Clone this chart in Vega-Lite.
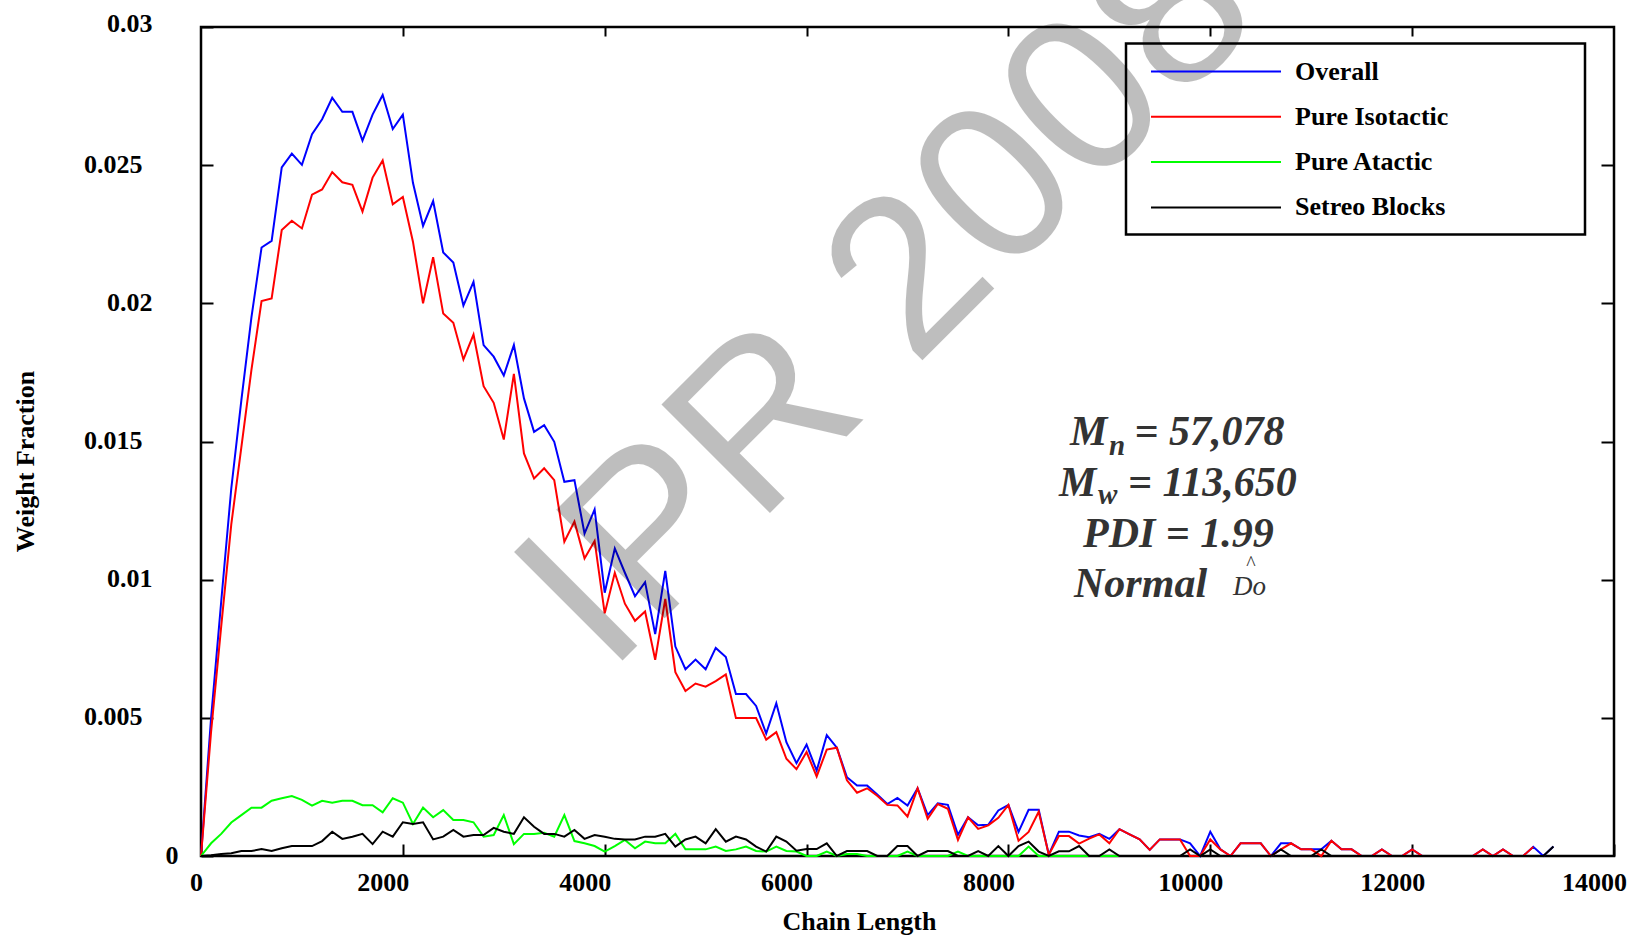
{
  "$schema": "https://vega.github.io/schema/vega-lite/v6.json",
  "width": 1413,
  "height": 829,
  "autosize": {"type": "none"},
  "padding": {"left": 201, "top": 27, "right": 17, "bottom": 82},
  "background": "white",
  "config": {
    "view": {"stroke": "black", "strokeWidth": 2.5},
    "legend": {"strokeWidth": 2.5},
    "font": "Liberation Serif"
  },
  "resolve": {"axis": {"x": "independent", "y": "independent"}},
  "layer": [
    {
      "data": {"values": [
        {"cl":0,"Overall":0,"Pure Isotactic":0,"Pure Atactic":0,"Setreo Blocks":0},
        {"cl":100,"Overall":0.005,"Pure Isotactic":0.0045,"Pure Atactic":0.00046,"Setreo Blocks":0.00003},
        {"cl":200,"Overall":0.0092,"Pure Isotactic":0.0083,"Pure Atactic":0.0008,"Setreo Blocks":0.00007},
        {"cl":300,"Overall":0.0133,"Pure Isotactic":0.012,"Pure Atactic":0.00121,"Setreo Blocks":0.0001},
        {"cl":400,"Overall":0.0165,"Pure Isotactic":0.0148,"Pure Atactic":0.00148,"Setreo Blocks":0.00018},
        {"cl":500,"Overall":0.0195,"Pure Isotactic":0.0176,"Pure Atactic":0.00175,"Setreo Blocks":0.00018},
        {"cl":600,"Overall":0.02202,"Pure Isotactic":0.02008,"Pure Atactic":0.00175,"Setreo Blocks":0.00025},
        {"cl":700,"Overall":0.02226,"Pure Isotactic":0.02018,"Pure Atactic":0.002,"Setreo Blocks":0.00018},
        {"cl":800,"Overall":0.02492,"Pure Isotactic":0.02265,"Pure Atactic":0.00209,"Setreo Blocks":0.00028},
        {"cl":900,"Overall":0.02542,"Pure Isotactic":0.02299,"Pure Atactic":0.00217,"Setreo Blocks":0.00036},
        {"cl":1000,"Overall":0.02501,"Pure Isotactic":0.02271,"Pure Atactic":0.00203,"Setreo Blocks":0.00036},
        {"cl":1100,"Overall":0.02612,"Pure Isotactic":0.02393,"Pure Atactic":0.00182,"Setreo Blocks":0.00036},
        {"cl":1200,"Overall":0.02666,"Pure Isotactic":0.02412,"Pure Atactic":0.002,"Setreo Blocks":0.00054},
        {"cl":1300,"Overall":0.02744,"Pure Isotactic":0.02475,"Pure Atactic":0.00193,"Setreo Blocks":0.00088},
        {"cl":1400,"Overall":0.02693,"Pure Isotactic":0.02438,"Pure Atactic":0.002,"Setreo Blocks":0.00062},
        {"cl":1500,"Overall":0.02693,"Pure Isotactic":0.02429,"Pure Atactic":0.002,"Setreo Blocks":0.0007},
        {"cl":1600,"Overall":0.02589,"Pure Isotactic":0.02332,"Pure Atactic":0.00184,"Setreo Blocks":0.0008},
        {"cl":1700,"Overall":0.02683,"Pure Isotactic":0.02455,"Pure Atactic":0.00184,"Setreo Blocks":0.00043},
        {"cl":1800,"Overall":0.02754,"Pure Isotactic":0.02517,"Pure Atactic":0.00158,"Setreo Blocks":0.00088},
        {"cl":1900,"Overall":0.02631,"Pure Isotactic":0.02358,"Pure Atactic":0.00209,"Setreo Blocks":0.0007},
        {"cl":2000,"Overall":0.02683,"Pure Isotactic":0.02385,"Pure Atactic":0.00193,"Setreo Blocks":0.00122},
        {"cl":2100,"Overall":0.02436,"Pure Isotactic":0.02223,"Pure Atactic":0.00116,"Setreo Blocks":0.00116},
        {"cl":2200,"Overall":0.0228,"Pure Isotactic":0.02,"Pure Atactic":0.00175,"Setreo Blocks":0.00122},
        {"cl":2300,"Overall":0.0237,"Pure Isotactic":0.02167,"Pure Atactic":0.0014,"Setreo Blocks":0.0006},
        {"cl":2400,"Overall":0.02184,"Pure Isotactic":0.01963,"Pure Atactic":0.00166,"Setreo Blocks":0.0007},
        {"cl":2500,"Overall":0.02148,"Pure Isotactic":0.0193,"Pure Atactic":0.0013,"Setreo Blocks":0.00094},
        {"cl":2600,"Overall":0.01992,"Pure Isotactic":0.01797,"Pure Atactic":0.0013,"Setreo Blocks":0.0007},
        {"cl":2700,"Overall":0.02078,"Pure Isotactic":0.01887,"Pure Atactic":0.00122,"Setreo Blocks":0.00076},
        {"cl":2800,"Overall":0.01849,"Pure Isotactic":0.017,"Pure Atactic":0.0007,"Setreo Blocks":0.00076},
        {"cl":2900,"Overall":0.01807,"Pure Isotactic":0.0164,"Pure Atactic":0.00076,"Setreo Blocks":0.00102},
        {"cl":3000,"Overall":0.01739,"Pure Isotactic":0.01507,"Pure Atactic":0.00148,"Setreo Blocks":0.00088},
        {"cl":3100,"Overall":0.01849,"Pure Isotactic":0.01745,"Pure Atactic":0.00043,"Setreo Blocks":0.0008},
        {"cl":3200,"Overall":0.01656,"Pure Isotactic":0.01457,"Pure Atactic":0.0008,"Setreo Blocks":0.0014},
        {"cl":3300,"Overall":0.01535,"Pure Isotactic":0.01366,"Pure Atactic":0.0008,"Setreo Blocks":0.00106},
        {"cl":3400,"Overall":0.01559,"Pure Isotactic":0.01403,"Pure Atactic":0.00084,"Setreo Blocks":0.0008},
        {"cl":3500,"Overall":0.01499,"Pure Isotactic":0.0136,"Pure Atactic":0.0007,"Setreo Blocks":0.0008},
        {"cl":3600,"Overall":0.01354,"Pure Isotactic":0.01137,"Pure Atactic":0.00148,"Setreo Blocks":0.0007},
        {"cl":3700,"Overall":0.0136,"Pure Isotactic":0.0121,"Pure Atactic":0.00054,"Setreo Blocks":0.00094},
        {"cl":3800,"Overall":0.01167,"Pure Isotactic":0.01077,"Pure Atactic":0.00046,"Setreo Blocks":0.00062},
        {"cl":3900,"Overall":0.01254,"Pure Isotactic":0.0114,"Pure Atactic":0.00036,"Setreo Blocks":0.00076},
        {"cl":4000,"Overall":0.00953,"Pure Isotactic":0.00878,"Pure Atactic":0.00016,"Setreo Blocks":0.0007},
        {"cl":4100,"Overall":0.01113,"Pure Isotactic":0.01025,"Pure Atactic":0.00036,"Setreo Blocks":0.00062},
        {"cl":4200,"Overall":0.01025,"Pure Isotactic":0.00913,"Pure Atactic":0.00058,"Setreo Blocks":0.0006},
        {"cl":4300,"Overall":0.0094,"Pure Isotactic":0.00851,"Pure Atactic":0.00028,"Setreo Blocks":0.0006},
        {"cl":4400,"Overall":0.00991,"Pure Isotactic":0.00885,"Pure Atactic":0.00052,"Setreo Blocks":0.0007},
        {"cl":4500,"Overall":0.00803,"Pure Isotactic":0.0071,"Pure Atactic":0.00046,"Setreo Blocks":0.0007},
        {"cl":4600,"Overall":0.01032,"Pure Isotactic":0.0093,"Pure Atactic":0.00046,"Setreo Blocks":0.0008},
        {"cl":4700,"Overall":0.00758,"Pure Isotactic":0.00665,"Pure Atactic":0.0008,"Setreo Blocks":0.00034},
        {"cl":4800,"Overall":0.00676,"Pure Isotactic":0.00597,"Pure Atactic":0.00024,"Setreo Blocks":0.0006},
        {"cl":4900,"Overall":0.00711,"Pure Isotactic":0.00624,"Pure Atactic":0.00024,"Setreo Blocks":0.0007},
        {"cl":5000,"Overall":0.00676,"Pure Isotactic":0.00613,"Pure Atactic":0.00024,"Setreo Blocks":0.00046},
        {"cl":5100,"Overall":0.00753,"Pure Isotactic":0.00633,"Pure Atactic":0.00034,"Setreo Blocks":0.00097},
        {"cl":5200,"Overall":0.0072,"Pure Isotactic":0.00657,"Pure Atactic":0.00018,"Setreo Blocks":0.00052},
        {"cl":5300,"Overall":0.00586,"Pure Isotactic":0.00499,"Pure Atactic":0.00024,"Setreo Blocks":0.0007},
        {"cl":5400,"Overall":0.00586,"Pure Isotactic":0.00499,"Pure Atactic":0.00034,"Setreo Blocks":0.0006},
        {"cl":5500,"Overall":0.00543,"Pure Isotactic":0.00499,"Pure Atactic":0.00018,"Setreo Blocks":0.00034},
        {"cl":5600,"Overall":0.00443,"Pure Isotactic":0.00421,"Pure Atactic":0.00016,"Setreo Blocks":0.00016},
        {"cl":5700,"Overall":0.00553,"Pure Isotactic":0.00448,"Pure Atactic":0.00034,"Setreo Blocks":0.0007},
        {"cl":5800,"Overall":0.00412,"Pure Isotactic":0.00352,"Pure Atactic":0.00018,"Setreo Blocks":0.00052},
        {"cl":5900,"Overall":0.00336,"Pure Isotactic":0.00314,"Pure Atactic":0.00016,"Setreo Blocks":0.00019},
        {"cl":6000,"Overall":0.00403,"Pure Isotactic":0.00376,"Pure Atactic":0,"Setreo Blocks":0.00025},
        {"cl":6100,"Overall":0.00309,"Pure Isotactic":0.00288,"Pure Atactic":0,"Setreo Blocks":0.00025},
        {"cl":6200,"Overall":0.00437,"Pure Isotactic":0.00385,"Pure Atactic":0.00016,"Setreo Blocks":0.00046},
        {"cl":6300,"Overall":0.00392,"Pure Isotactic":0.00392,"Pure Atactic":0,"Setreo Blocks":0},
        {"cl":6400,"Overall":0.00285,"Pure Isotactic":0.00274,"Pure Atactic":0.00007,"Setreo Blocks":0.00018},
        {"cl":6500,"Overall":0.00255,"Pure Isotactic":0.00229,"Pure Atactic":0.00007,"Setreo Blocks":0.00018},
        {"cl":6600,"Overall":0.00255,"Pure Isotactic":0.00245,"Pure Atactic":0,"Setreo Blocks":0.00018},
        {"cl":6700,"Overall":0.00223,"Pure Isotactic":0.00218,"Pure Atactic":0,"Setreo Blocks":0},
        {"cl":6800,"Overall":0.00188,"Pure Isotactic":0.00185,"Pure Atactic":0,"Setreo Blocks":0},
        {"cl":6900,"Overall":0.0021,"Pure Isotactic":0.00183,"Pure Atactic":0,"Setreo Blocks":0.00036},
        {"cl":7000,"Overall":0.00183,"Pure Isotactic":0.00143,"Pure Atactic":0.00016,"Setreo Blocks":0.00036},
        {"cl":7100,"Overall":0.00245,"Pure Isotactic":0.00245,"Pure Atactic":0,"Setreo Blocks":0},
        {"cl":7200,"Overall":0.00148,"Pure Isotactic":0.00135,"Pure Atactic":0,"Setreo Blocks":0.00018},
        {"cl":7300,"Overall":0.00191,"Pure Isotactic":0.00188,"Pure Atactic":0,"Setreo Blocks":0.00018},
        {"cl":7400,"Overall":0.00185,"Pure Isotactic":0.00171,"Pure Atactic":0,"Setreo Blocks":0.00018},
        {"cl":7500,"Overall":0.00077,"Pure Isotactic":0.00058,"Pure Atactic":0.00016,"Setreo Blocks":0},
        {"cl":7600,"Overall":0.0014,"Pure Isotactic":0.0014,"Pure Atactic":0,"Setreo Blocks":0},
        {"cl":7700,"Overall":0.00111,"Pure Isotactic":0.00098,"Pure Atactic":0,"Setreo Blocks":0.00018},
        {"cl":7800,"Overall":0.00113,"Pure Isotactic":0.00111,"Pure Atactic":0,"Setreo Blocks":0},
        {"cl":7900,"Overall":0.00165,"Pure Isotactic":0.00138,"Pure Atactic":0,"Setreo Blocks":0.00036},
        {"cl":8000,"Overall":0.00185,"Pure Isotactic":0.00185,"Pure Atactic":0,"Setreo Blocks":0},
        {"cl":8100,"Overall":0.00087,"Pure Isotactic":0.00055,"Pure Atactic":0,"Setreo Blocks":0.00036},
        {"cl":8200,"Overall":0.00167,"Pure Isotactic":0.00087,"Pure Atactic":0.00034,"Setreo Blocks":0.00052},
        {"cl":8300,"Overall":0.00167,"Pure Isotactic":0.0016,"Pure Atactic":0,"Setreo Blocks":0.00016},
        {"cl":8400,"Overall":0.00005,"Pure Isotactic":0.00005,"Pure Atactic":0,"Setreo Blocks":0},
        {"cl":8500,"Overall":0.00088,"Pure Isotactic":0.00072,"Pure Atactic":0,"Setreo Blocks":0.00017},
        {"cl":8600,"Overall":0.00088,"Pure Isotactic":0.00072,"Pure Atactic":0,"Setreo Blocks":0.00017},
        {"cl":8700,"Overall":0.00074,"Pure Isotactic":0.00045,"Pure Atactic":0,"Setreo Blocks":0.00036},
        {"cl":8800,"Overall":0.00068,"Pure Isotactic":0.00063,"Pure Atactic":0,"Setreo Blocks":0},
        {"cl":8900,"Overall":0.0008,"Pure Isotactic":0.00078,"Pure Atactic":0,"Setreo Blocks":0},
        {"cl":9000,"Overall":0.00062,"Pure Isotactic":0.00046,"Pure Atactic":0,"Setreo Blocks":0.00024},
        {"cl":9100,"Overall":0.00097,"Pure Isotactic":0.00097,"Pure Atactic":0,"Setreo Blocks":0},
        {"cl":9200,"Overall":0.00078,"Pure Isotactic":0.00078,"Pure Atactic":0,"Setreo Blocks":0},
        {"cl":9300,"Overall":0.0006,"Pure Isotactic":0.0006,"Pure Atactic":0,"Setreo Blocks":0},
        {"cl":9400,"Overall":0.00022,"Pure Isotactic":0.00022,"Setreo Blocks":0},
        {"cl":9500,"Overall":0.0006,"Pure Isotactic":0.0006,"Setreo Blocks":0},
        {"cl":9600,"Overall":0.0006,"Pure Isotactic":0.0006,"Setreo Blocks":0},
        {"cl":9700,"Overall":0.0006,"Pure Isotactic":0.0006,"Setreo Blocks":0},
        {"cl":9800,"Overall":0.00046,"Pure Isotactic":0,"Setreo Blocks":0.00024},
        {"cl":9900,"Overall":0,"Pure Isotactic":0,"Setreo Blocks":0},
        {"cl":10000,"Overall":0.00088,"Pure Isotactic":0.0006,"Setreo Blocks":0.00024},
        {"cl":10100,"Overall":0.00024,"Pure Isotactic":0.00024,"Setreo Blocks":0},
        {"cl":10200,"Overall":0,"Pure Isotactic":0,"Setreo Blocks":0},
        {"cl":10300,"Overall":0.00046,"Pure Isotactic":0.00046,"Setreo Blocks":0},
        {"cl":10400,"Overall":0.00046,"Pure Isotactic":0.00046,"Setreo Blocks":0},
        {"cl":10500,"Overall":0.00046,"Pure Isotactic":0.00046,"Setreo Blocks":0},
        {"cl":10600,"Overall":0,"Pure Isotactic":0,"Setreo Blocks":0},
        {"cl":10700,"Overall":0.00046,"Pure Isotactic":0.00024,"Setreo Blocks":0.00024},
        {"cl":10800,"Overall":0.00046,"Pure Isotactic":0.00046,"Setreo Blocks":0},
        {"cl":10900,"Overall":0.00024,"Pure Isotactic":0.00024,"Setreo Blocks":0},
        {"cl":11000,"Overall":0.00024,"Pure Isotactic":0.00024,"Setreo Blocks":0},
        {"cl":11100,"Overall":0.00024,"Pure Isotactic":0,"Setreo Blocks":0.00024},
        {"cl":11200,"Overall":0.00055,"Pure Isotactic":0.00055,"Setreo Blocks":0},
        {"cl":11300,"Overall":0.00024,"Pure Isotactic":0.00024,"Setreo Blocks":0},
        {"cl":11400,"Overall":0.00024,"Pure Isotactic":0.00024,"Setreo Blocks":0},
        {"cl":11500,"Overall":0,"Pure Isotactic":0,"Setreo Blocks":0},
        {"cl":11600,"Overall":0,"Pure Isotactic":0,"Setreo Blocks":0},
        {"cl":11700,"Overall":0.00024,"Pure Isotactic":0.00024,"Setreo Blocks":0},
        {"cl":11800,"Overall":0,"Pure Isotactic":0,"Setreo Blocks":0},
        {"cl":11900,"Overall":0,"Pure Isotactic":0,"Setreo Blocks":0},
        {"cl":12000,"Overall":0.00024,"Pure Isotactic":0.00024,"Setreo Blocks":0},
        {"cl":12100,"Overall":0,"Pure Isotactic":0,"Setreo Blocks":0},
        {"cl":12200,"Overall":0,"Pure Isotactic":0,"Setreo Blocks":0},
        {"cl":12300,"Overall":0,"Pure Isotactic":0,"Setreo Blocks":0},
        {"cl":12400,"Overall":0,"Pure Isotactic":0,"Setreo Blocks":0},
        {"cl":12500,"Overall":0,"Pure Isotactic":0,"Setreo Blocks":0},
        {"cl":12600,"Overall":0,"Pure Isotactic":0,"Setreo Blocks":0},
        {"cl":12700,"Overall":0.00024,"Pure Isotactic":0.00024,"Setreo Blocks":0},
        {"cl":12800,"Overall":0,"Pure Isotactic":0,"Setreo Blocks":0},
        {"cl":12900,"Overall":0.00024,"Pure Isotactic":0.00024,"Setreo Blocks":0},
        {"cl":13000,"Overall":0,"Pure Isotactic":0,"Setreo Blocks":0},
        {"cl":13100,"Overall":0,"Pure Isotactic":0,"Setreo Blocks":0},
        {"cl":13200,"Overall":0.00033,"Pure Isotactic":0.00033,"Setreo Blocks":0},
        {"cl":13300,"Overall":0,"Setreo Blocks":0},
        {"cl":13400,"Overall":0.00034,"Setreo Blocks":0.00034}
      ]},
      "transform": [{"fold": ["Overall", "Pure Isotactic", "Pure Atactic", "Setreo Blocks"], "as": ["series", "wf"]}],
      "mark": {"type": "line", "strokeWidth": 2},
      "encoding": {
        "x": {
          "field": "cl", "type": "quantitative",
          "scale": {"domain": [0, 14000], "nice": false, "zero": false},
          "axis": {
            "orient": "bottom", "values": [0, 2000, 4000, 6000, 8000, 10000, 12000, 14000], "format": "d",
            "domain": false, "grid": false, "ticks": true, "tickSize": -12, "tickWidth": 2, "tickColor": "black",
            "labelFont": "Liberation Serif", "labelFontWeight": "bold", "labelFontSize": 26, "labelColor": "black",
            "labelBaseline": "alphabetic", "labelPadding": 46, "labelFlush": false, "labelOverlap": false,
            "labelOffset": {"condition": {"test": "datum.value === 0", "value": -5}, "value": -20},
            "title": "Chain Length", "titleFont": "Liberation Serif", "titleFontWeight": "bold", "titleFontSize": 26, "titleColor": "black",
            "titleX": 658, "titleY": 73, "titleAlign": "center", "titleBaseline": "alphabetic"
          }
        },
        "y": {
          "field": "wf", "type": "quantitative",
          "scale": {"domain": [0, 0.03], "nice": false},
          "axis": {
            "orient": "left", "values": [0, 0.005, 0.01, 0.015, 0.02, 0.025, 0.03], "format": "~g",
            "domain": false, "grid": false, "ticks": true, "tickSize": -12, "tickWidth": 2, "tickColor": "black",
            "labelFont": "Liberation Serif", "labelFontWeight": "bold", "labelFontSize": 26, "labelColor": "black",
            "labelAlign": "right", "labelBaseline": "middle", "labelFlush": false, "labelOverlap": false,
            "labelOffset": {"condition": {"test": "datum.value === 0.03", "value": -4}, "value": -1},
            "labelPadding": {"condition": [
              {"test": "datum.value === 0", "value": 35},
              {"test": "datum.value === 0.005 || datum.value === 0.015 || datum.value === 0.025", "value": 71}
            ], "value": 61},
            "title": "Weight Fraction", "titleFont": "Liberation Serif", "titleFontWeight": "bold", "titleFontSize": 26, "titleColor": "black",
            "titleAngle": -90, "titleX": -168, "titleY": 434, "titleAlign": "center", "titleBaseline": "alphabetic"
          }
        },
        "color": {
          "field": "series", "type": "nominal",
          "scale": {"domain": ["Overall", "Pure Isotactic", "Pure Atactic", "Setreo Blocks"], "range": ["#0000ff", "#ff0000", "#00ff00", "#000000"]},
          "legend": {
            "orient": "none", "legendX": 925, "legendY": 16.5, "title": null, "direction": "vertical",
            "symbolType": "M-5,0H5M27,0", "symbolSize": 676, "symbolStrokeWidth": 2, "symbolOffset": 62,
            "labelOffset": 65, "labelFont": "Liberation Serif", "labelFontWeight": "bold", "labelFontSize": 26, "labelColor": "black",
            "labelLimit": 0,
            "rowPadding": 18.3, "padding": 14, "strokeColor": "black"
          }
        }
      }
    },
    {
      "data": {"values": [{}]},
      "mark": {"type": "text", "text": "IPR 2008", "font": "Liberation Sans", "fontSize": 223, "angle": -45, "align": "left", "baseline": "alphabetic", "color": "#000000", "opacity": 0.25},
      "encoding": {
        "x": {"datum": 4032, "type": "quantitative", "axis": {"orient": "top", "labels": false, "title": null, "domain": false, "grid": false, "ticks": true, "tickSize": -9, "tickWidth": 2, "tickColor": "black", "values": [2000, 4000, 6000, 8000, 10000, 12000]}},
        "y": {"datum": 0.00655, "type": "quantitative", "axis": {"orient": "right", "labels": false, "title": null, "domain": false, "grid": false, "ticks": true, "tickSize": -13, "tickWidth": 2, "tickColor": "black", "values": [0.005, 0.01, 0.015, 0.02, 0.025]}}
      }
    },
    {
      "data": {"values": [{}]},
      "mark": {"type": "text", "text": "M", "font": "Liberation Serif", "fontStyle": "italic", "fontWeight": "bold", "fontSize": 42, "color": "#333333", "align": "left", "baseline": "alphabetic"},
      "encoding": {"x": {"datum": 8610, "type": "quantitative", "axis": null}, "y": {"datum": 0.014875, "type": "quantitative", "axis": null}}
    },
    {
      "data": {"values": [{}]},
      "mark": {"type": "text", "text": "n", "font": "Liberation Serif", "fontStyle": "italic", "fontWeight": "bold", "fontSize": 29, "color": "#333333", "align": "left", "baseline": "alphabetic"},
      "encoding": {"x": {"datum": 8996, "type": "quantitative", "axis": null}, "y": {"datum": 0.014513, "type": "quantitative", "axis": null}}
    },
    {
      "data": {"values": [{}]},
      "mark": {"type": "text", "text": "= 57,078", "font": "Liberation Serif", "fontStyle": "italic", "fontWeight": "bold", "fontSize": 42, "color": "#333333", "align": "left", "baseline": "alphabetic"},
      "encoding": {"x": {"datum": 9249, "type": "quantitative", "axis": null}, "y": {"datum": 0.014875, "type": "quantitative", "axis": null}}
    },
    {
      "data": {"values": [{}]},
      "mark": {"type": "text", "text": "M", "font": "Liberation Serif", "fontStyle": "italic", "fontWeight": "bold", "fontSize": 42, "color": "#333333", "align": "left", "baseline": "alphabetic"},
      "encoding": {"x": {"datum": 8501, "type": "quantitative", "axis": null}, "y": {"datum": 0.013037, "type": "quantitative", "axis": null}}
    },
    {
      "data": {"values": [{}]},
      "mark": {"type": "text", "text": "w", "font": "Liberation Serif", "fontStyle": "italic", "fontWeight": "bold", "fontSize": 29, "color": "#333333", "align": "left", "baseline": "alphabetic"},
      "encoding": {"x": {"datum": 8887, "type": "quantitative", "axis": null}, "y": {"datum": 0.012722, "type": "quantitative", "axis": null}}
    },
    {
      "data": {"values": [{}]},
      "mark": {"type": "text", "text": "= 113,650", "font": "Liberation Serif", "fontStyle": "italic", "fontWeight": "bold", "fontSize": 42, "color": "#333333", "align": "left", "baseline": "alphabetic"},
      "encoding": {"x": {"datum": 9185, "type": "quantitative", "axis": null}, "y": {"datum": 0.013037, "type": "quantitative", "axis": null}}
    },
    {
      "data": {"values": [{}]},
      "mark": {"type": "text", "text": "PDI = 1.99", "font": "Liberation Serif", "fontStyle": "italic", "fontWeight": "bold", "fontSize": 42, "color": "#333333", "align": "left", "baseline": "alphabetic"},
      "encoding": {"x": {"datum": 8739, "type": "quantitative", "axis": null}, "y": {"datum": 0.011183, "type": "quantitative", "axis": null}}
    },
    {
      "data": {"values": [{}]},
      "mark": {"type": "text", "text": "Normal", "font": "Liberation Serif", "fontStyle": "italic", "fontWeight": "bold", "fontSize": 42, "color": "#333333", "align": "left", "baseline": "alphabetic"},
      "encoding": {"x": {"datum": 8650, "type": "quantitative", "axis": null}, "y": {"datum": 0.009359, "type": "quantitative", "axis": null}}
    },
    {
      "data": {"values": [{}]},
      "mark": {"type": "text", "text": "Do", "font": "Liberation Serif", "fontStyle": "italic", "fontWeight": "normal", "fontSize": 27, "color": "#333333", "align": "left", "baseline": "alphabetic"},
      "encoding": {"x": {"datum": 10225, "type": "quantitative", "axis": null}, "y": {"datum": 0.009446, "type": "quantitative", "axis": null}}
    },
    {
      "data": {"values": [{}]},
      "mark": {"type": "text", "text": "^", "font": "Liberation Serif", "fontStyle": "normal", "fontWeight": "normal", "fontSize": 20, "color": "#333333", "align": "center", "baseline": "alphabetic"},
      "encoding": {"x": {"datum": 10403, "type": "quantitative", "axis": null}, "y": {"datum": 0.010351, "type": "quantitative", "axis": null}}
    }
  ]
}
